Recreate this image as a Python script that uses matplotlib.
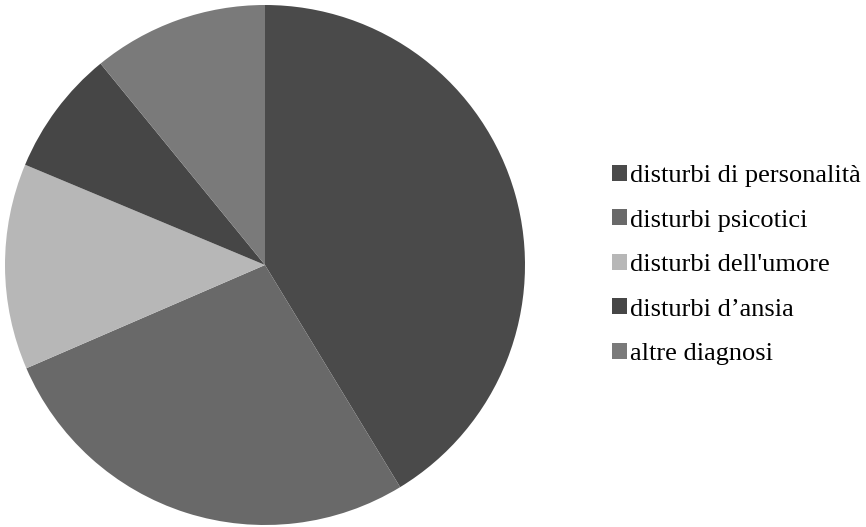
import matplotlib
matplotlib.use("Agg")
import matplotlib.pyplot as plt
from matplotlib.patches import Patch

categories = ["disturbi di personalità", "disturbi psicotici", "disturbi dell'umore",
              "disturbi d\u2019ansia", "altre diagnosi"]
values = [41.3, 27.2, 12.8, 7.8, 10.9]
colors = ["#4a4a4a", "#696969", "#b7b7b7", "#464646", "#7a7a7a"]

plt.rcParams["font.family"] = ["Liberation Serif", "DejaVu Serif"]

fig = plt.figure(figsize=(8.66, 5.27), dpi=100)
ax = fig.add_axes([5 / 866, 2 / 527, 520 / 866, 520 / 527])
ax.pie(values, colors=colors, startangle=90, counterclock=False, radius=1.0,
       wedgeprops=dict(linewidth=0))
ax.set_xlim(-1, 1)
ax.set_ylim(-1, 1)
ax.set_aspect("equal")
ax.axis("off")

handles = [Patch(facecolor=c, edgecolor="none") for c in colors]
fig.legend(handles, categories, loc="center left", bbox_to_anchor=(612 / 866, 1 - 265 / 527),
           frameon=False, fontsize=19, handlelength=0.55, handleheight=0.55,
           handletextpad=0.15, labelspacing=0.84, borderpad=0, borderaxespad=0)

fig.savefig("out.png", dpi=100)
